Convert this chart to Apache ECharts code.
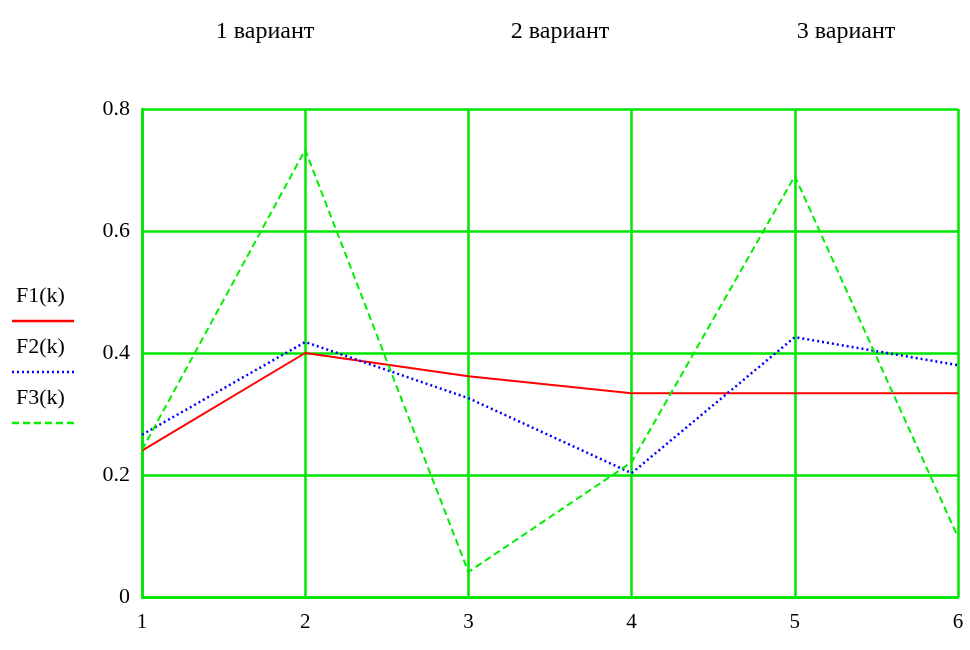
<!DOCTYPE html>
<html>
<head>
<meta charset="utf-8">
<script src="https://cdn.jsdelivr.net/npm/echarts@6/dist/echarts.min.js"></script>
<style>
  html, body { margin: 0; padding: 0; background: #fff; }
  #chart { width: 970px; height: 650px; }
</style>
</head>
<body>
<div id="chart"></div>
<script>
  const kValues = [1, 2, 3, 4, 5, 6]
  const f1 = [0.24, 0.4, 0.362, 0.334, 0.334, 0.334]
  const f2 = [0.266, 0.418, 0.326, 0.203, 0.426, 0.38]
  const f3 = [0.241, 0.733, 0.041, 0.221, 0.69, 0.098]
  const seriesNames = ['F1(k)', 'F2(k)', 'F3(k)']
  const variantLabels = ['1 вариант', '2 вариант', '3 вариант']

  const font = '"Liberation Serif", "Times New Roman", serif'
  const gridGreen = '#00e600'

  let chart = echarts.init(document.getElementById('chart'))

  function seriesItem(name, values, color, type, width) {
    return {
      name,
      type: 'line',
      symbol: 'none',
      animation: false,
      lineStyle: { color, type, width },
      data: kValues.map((k, i) => [k, values[i]])
    }
  }

  // legend on the left, mathcad style: name above, line sample below
  function legendItem(name, color, type, top) {
    return [
      {
        type: 'text', left: 16, top: top,
        style: { text: name, font: '22px ' + font, fill: '#000' }
      },
      {
        type: 'line',
        shape: { x1: 12, y1: top + 36, x2: 74, y2: top + 36 },
        style: { stroke: color, lineWidth: 2.5, lineDash: type }
      }
    ]
  }

  chart.setOption({
    animation: false,
    grid: { left: 142, right: 12, top: 109, bottom: 53 },
    xAxis: {
      type: 'value',
      min: 1, max: 6, interval: 1,
      axisLine: { show: true, lineStyle: { color: gridGreen, width: 2.5 } },
      axisTick: { show: false },
      axisLabel: { color: '#000', fontFamily: font, fontSize: 21, margin: 15 },
      splitLine: { show: true, lineStyle: { color: gridGreen, width: 2.5 } }
    },
    yAxis: {
      type: 'value',
      min: 0, max: 0.8, interval: 0.2,
      axisLine: { show: true, lineStyle: { color: gridGreen, width: 2.5 } },
      axisTick: { show: false },
      axisLabel: {
        color: '#000', fontFamily: font, fontSize: 22, margin: 12,
        padding: [6, 0, 0, 0],
        formatter: v => v === 0 ? '0' : v.toFixed(1)
      },
      splitLine: { show: true, lineStyle: { color: gridGreen, width: 2.5 } }
    },
    graphic: [
      ...variantLabels.map((t, i) => ({
        type: 'text', x: [265, 560, 846][i], y: 20,
        style: { text: t, font: '24px ' + font, fill: '#000', align: 'center' }
      })),
      ...legendItem(seriesNames[0], '#ff0000', null, 285),
      ...legendItem(seriesNames[1], '#0000ff', [2, 3], 336),
      ...legendItem(seriesNames[2], '#00ee00', [7, 4], 387)
    ],
    series: [
      seriesItem(seriesNames[0], f1, '#ff0000', 'solid', 2),
      seriesItem(seriesNames[1], f2, '#0000ff', [2, 3], 2.5),
      seriesItem(seriesNames[2], f3, '#00ee00', [7, 4], 2)
    ]
  })
</script>
</body>
</html>
